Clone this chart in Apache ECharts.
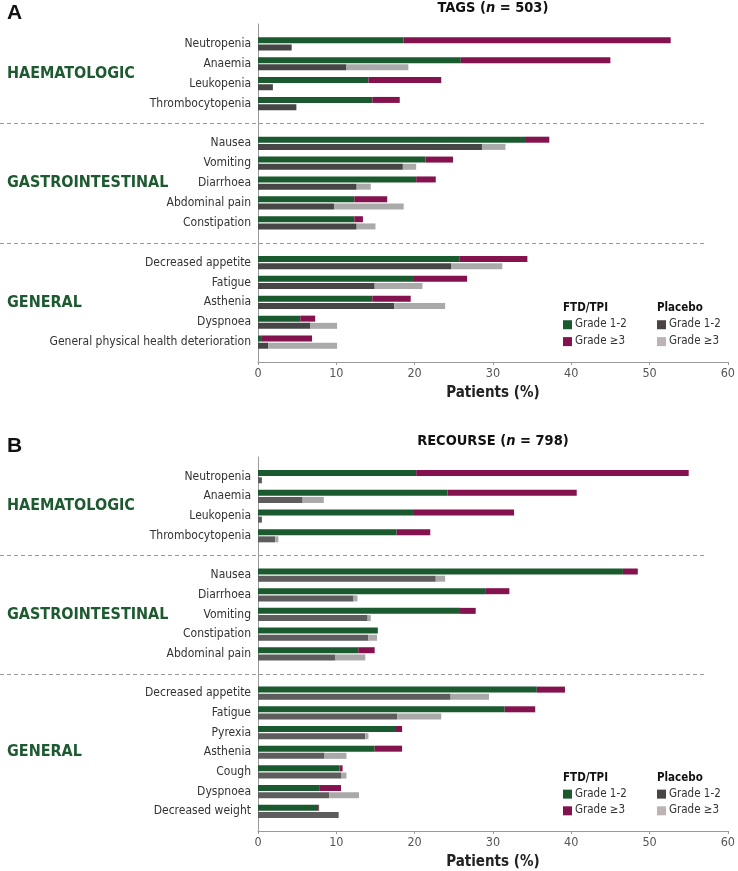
<!DOCTYPE html>
<html>
<head>
<meta charset="utf-8">
<script src="https://cdn.jsdelivr.net/npm/echarts@6/dist/echarts.min.js"></script>
<style>
  html, body { margin: 0; padding: 0; background: #fff; }
  #chart { width: 738px; height: 871px; }
</style>
</head>
<body>
<div id="chart"></div>
<script>
// ---- data (percent of patients) ----
const groupNames = ['HAEMATOLOGIC', 'GASTROINTESTINAL', 'GENERAL']

// panel A: TAGS
const tagsHaem = ['Neutropenia', 'Anaemia', 'Leukopenia', 'Thrombocytopenia']
const tagsGi = ['Nausea', 'Vomiting', 'Diarrhoea', 'Abdominal pain', 'Constipation']
const tagsGen = ['Decreased appetite', 'Fatigue', 'Asthenia', 'Dyspnoea', 'General physical health deterioration']
const tagsFtdG12 = [18.6, 25.9, 14.1, 14.6, 34.1, 21.4, 20.2, 12.3, 12.3, 25.7, 19.8, 14.6, 5.4, 0.4]
const tagsFtdG3 = [34.1, 19.1, 9.3, 3.5, 3.1, 3.5, 2.5, 4.2, 1.1, 8.7, 6.9, 4.9, 1.9, 6.5]
const tagsPboG12 = [4.3, 11.3, 1.9, 4.9, 28.6, 18.5, 12.6, 9.7, 12.6, 24.7, 14.9, 17.4, 6.7, 1.3]
const tagsPboG3 = [0, 7.9, 0, 0, 3.0, 1.7, 1.8, 8.9, 2.4, 6.5, 6.1, 6.5, 3.4, 8.8]

// panel B: RECOURSE
const recHaem = ['Neutropenia', 'Anaemia', 'Leukopenia', 'Thrombocytopenia']
const recGi = ['Nausea', 'Diarrhoea', 'Vomiting', 'Constipation', 'Abdominal pain']
const recGen = ['Decreased appetite', 'Fatigue', 'Pyrexia', 'Asthenia', 'Cough', 'Dyspnoea', 'Decreased weight']
const recFtdG12 = [20.2, 24.2, 19.8, 17.7, 46.6, 29.1, 25.8, 15.2, 12.8, 35.6, 31.5, 17.5, 14.9, 10.4, 7.9, 7.7]
const recFtdG3 = [34.8, 16.5, 12.9, 4.3, 1.9, 3.0, 2.0, 0.1, 2.1, 3.6, 3.9, 0.9, 3.5, 0.4, 2.7, 0.1]
const recPboG12 = [0.5, 5.7, 0.5, 2.2, 22.7, 12.2, 14.0, 14.1, 9.9, 24.6, 17.8, 13.7, 8.5, 10.6, 9.1, 10.3]
const recPboG3 = [0, 2.7, 0, 0.4, 1.2, 0.5, 0.4, 1.1, 3.8, 4.9, 5.6, 0.4, 2.8, 0.7, 3.8, 0]

const xTicks = [0, 10, 20, 30, 40, 50, 60]

// ---- style ----
const NARROW = "'DejaVu Sans Condensed', 'Liberation Sans', sans-serif"
const GREEN = '#1b5a2f'
const MAROON = '#84124f'
const AXIS_GREY = '#9a9a9a'

// category list with empty slots around / between groups
function withGaps (groups, tag) {
  const out = [tag + 'gap0']
  groups.forEach((g, i) => {
    out.push(...g)
    out.push(tag + 'gap' + (i + 1))
  })
  return out
}
function padValues (groups, vals) {
  const out = ['-']
  let k = 0
  groups.forEach(g => {
    g.forEach(() => { out.push(vals[k++]) })
    out.push('-')
  })
  return out
}

const panels = [
  { tag: 'A', title: 'TAGS', n: 503, groups: [tagsHaem, tagsGi, tagsGen], top: 24, height: 338, dark: '#464646', light: '#aaaaaa', ftd12: tagsFtdG12, ftd3: tagsFtdG3, pbo12: tagsPboG12, pbo3: tagsPboG3 },
  { tag: 'B', title: 'RECOURSE', n: 798, groups: [recHaem, recGi, recGen], top: 457, height: 378, dark: '#5d5d5d', light: '#a9a9a9', ftd12: recFtdG12, ftd3: recFtdG3, pbo12: recPboG12, pbo3: recPboG3 }
]

const grid = []
const xAxis = []
const yAxis = []
const series = []

panels.forEach((p, i) => {
  const cats = withGaps(p.groups, p.tag)
  grid.push({ left: 258, right: 7, top: p.top, height: p.height })
  xAxis.push({
    gridIndex: i,
    type: 'value',
    min: xTicks[0],
    max: xTicks[xTicks.length - 1],
    interval: xTicks[1] - xTicks[0],
    name: 'Patients (%)',
    nameLocation: 'middle',
    nameGap: 24,
    nameTextStyle: { fontFamily: NARROW, fontWeight: 'bold', fontSize: 15, color: '#222' },
    axisLine: { show: true, lineStyle: { color: AXIS_GREY, width: 1 } },
    axisTick: { show: true, length: 3, lineStyle: { color: AXIS_GREY } },
    axisLabel: { fontFamily: NARROW, fontSize: 12.5, color: '#555', margin: 5 },
    splitLine: { show: false }
  })
  yAxis.push({
    gridIndex: i,
    type: 'category',
    inverse: true,
    boundaryGap: false,
    data: cats,
    axisLine: { show: true, lineStyle: { color: AXIS_GREY, width: 1 } },
    axisTick: { show: false },
    splitLine: { show: false },
    axisLabel: {
      interval: 0,
      fontFamily: NARROW,
      fontSize: 12,
      color: '#333',
      margin: 7,
      formatter: v => (v.indexOf('gap') >= 0 ? '' : v)
    }
  })
  const common = { type: 'bar', xAxisIndex: i, yAxisIndex: i, barWidth: 6, barGap: '20%', silent: true }
  series.push(
    { ...common, name: p.tag + ' FTD/TPI Grade 1-2', stack: p.tag + 'ftd', itemStyle: { color: GREEN }, data: padValues(p.groups, p.ftd12) },
    { ...common, name: p.tag + ' FTD/TPI Grade >=3', stack: p.tag + 'ftd', itemStyle: { color: MAROON }, data: padValues(p.groups, p.ftd3) },
    { ...common, name: p.tag + ' Placebo Grade 1-2', stack: p.tag + 'pbo', itemStyle: { color: p.dark }, data: padValues(p.groups, p.pbo12) },
    { ...common, name: p.tag + ' Placebo Grade >=3', stack: p.tag + 'pbo', itemStyle: { color: p.light }, data: padValues(p.groups, p.pbo3) }
  )
})

const chart = echarts.init(document.getElementById('chart'))
chart.setOption({
  animation: false,
  backgroundColor: '#fff',
  grid,
  xAxis,
  yAxis,
  series
})

// decorations: panel letters, titles, separators, group names, legends
const graphic = []
panels.forEach((p, i) => {
  const py = name => chart.convertToPixel({ yAxisIndex: i }, name)
  const cx = chart.convertToPixel({ xAxisIndex: i }, 30)

  graphic.push({
    type: 'text', x: 7, y: p.top - 21,
    style: { text: p.tag, font: "bold 21px 'Liberation Sans', sans-serif", fill: '#111' }
  })
  graphic.push({
    type: 'text', x: cx, y: p.top - 23,
    style: {
      text: '{b|' + p.title + ' (}{i|n}{b| = ' + p.n + ')}',
      align: 'center', verticalAlign: 'top',
      rich: {
        b: { fontFamily: NARROW, fontWeight: 'bold', fontSize: 14.5, fill: '#111' },
        i: { fontFamily: NARROW, fontWeight: 'bold', fontStyle: 'italic', fontSize: 14.5, fill: '#111' }
      }
    }
  })

  // dashed separators between groups
  for (let g = 1; g < p.groups.length; g++) {
    const y = Math.round(py(p.tag + 'gap' + g)) + 0.5
    graphic.push({
      type: 'line', silent: true,
      shape: { x1: 0, y1: y, x2: 707, y2: y },
      style: { stroke: AXIS_GREY, lineWidth: 1, lineDash: [4, 3] }
    })
  }

  // group names
  p.groups.forEach((g, k) => {
    const y = (py(g[0]) + py(g[g.length - 1])) / 2
    graphic.push({
      type: 'text', x: 7, y: y,
      style: { text: groupNames[k], verticalAlign: 'middle', fontFamily: NARROW, fontWeight: 'bold', fontSize: 16, fill: '#1d5a30' }
    })
  })

  // legend (bottom right)
  const last = p.groups[p.groups.length - 1]
  const row1 = py(last[last.length - 2]) + 2
  const row2 = py(last[last.length - 1]) - 1
  const head = row1 - 16
  const cols = [
    { x: 563, title: 'FTD/TPI', c1: GREEN, c2: MAROON },
    { x: 657, title: 'Placebo', c1: '#4a4444', c2: '#bcb4b4' }
  ]
  cols.forEach(c => {
    graphic.push({ type: 'text', x: c.x, y: head, style: { text: c.title, verticalAlign: 'middle', fontFamily: NARROW, fontWeight: 'bold', fontSize: 11.5, fill: '#111' } })
    graphic.push({ type: 'rect', shape: { x: c.x, y: row1 - 4, width: 9, height: 9 }, style: { fill: c.c1 } })
    graphic.push({ type: 'rect', shape: { x: c.x, y: row2 - 4, width: 9, height: 9 }, style: { fill: c.c2 } })
    graphic.push({ type: 'text', x: c.x + 12, y: row1, style: { text: 'Grade 1-2', verticalAlign: 'middle', fontFamily: NARROW, fontSize: 11.5, fill: '#333' } })
    graphic.push({ type: 'text', x: c.x + 12, y: row2, style: { text: 'Grade \u22653', verticalAlign: 'middle', fontFamily: NARROW, fontSize: 11.5, fill: '#333' } })
  })
})

chart.setOption({ graphic })
</script>
</body>
</html>
